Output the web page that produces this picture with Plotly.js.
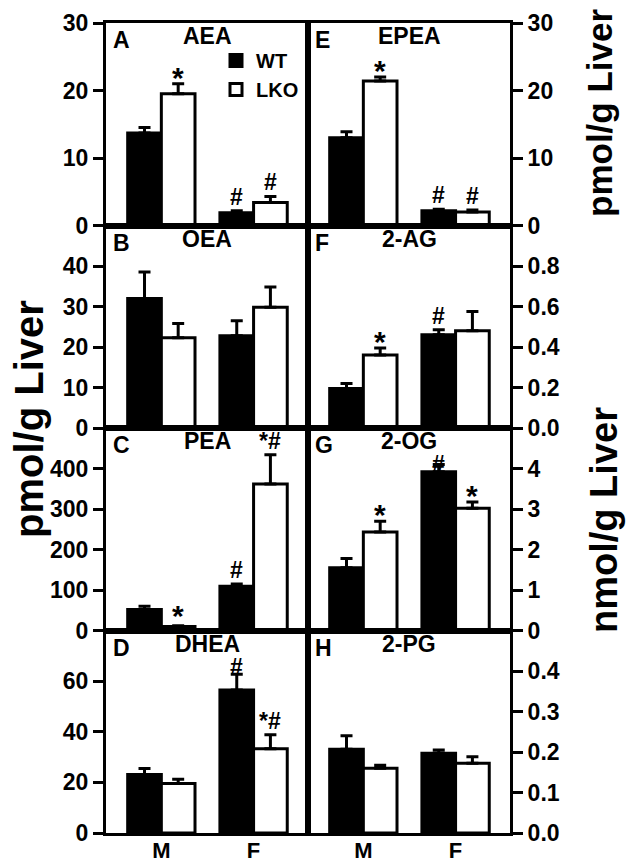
<!DOCTYPE html>
<html><head><meta charset="utf-8">
<script src="https://cdn.plot.ly/plotly-3.0.1.min.js"></script>
<style>html,body{margin:0;padding:0;background:#fff}</style>
</head><body><div id="chart" style="width:629px;height:867px"></div>
<script>
const groups = ['M', 'F'];
const groupX = [0, 1];
const seriesNames = ['WT', 'LKO'];
const panelLetters = ['A', 'B', 'C', 'D', 'E', 'F', 'G', 'H'];
const panelNames = ['AEA', 'OEA', 'PEA', 'DHEA', 'EPEA', '2-AG', '2-OG', '2-PG'];

// means [M, F] and SEM (upper) per panel
const aeaWT = [13.7, 1.9],   aeaWTerr = [0.8, 0.3],   aeaLKO = [19.5, 3.4],   aeaLKOerr = [1.5, 0.9];
const oeaWT = [32.0, 22.8],  oeaWTerr = [6.5, 3.7],   oeaLKO = [22.3, 29.8],  oeaLKOerr = [3.5, 5.0];
const peaWT = [52, 109],     peaWTerr = [8, 6],       peaLKO = [10, 362],     peaLKOerr = [2, 72];
const dheaWT = [23.1, 56.5], dheaWTerr = [2.4, 6.2],  dheaLKO = [19.6, 33.3], dheaLKOerr = [1.6, 5.5];
const epeaWT = [13.0, 2.2],  epeaWTerr = [0.9, 0.2],  epeaLKO = [21.4, 2.0],  epeaLKOerr = [0.6, 0.3];
const agWT = [0.195, 0.46],  agWTerr = [0.025, 0.025], agLKO = [0.36, 0.48], agLKOerr = [0.035, 0.095];
const ogWT = [1.55, 3.92],   ogWTerr = [0.23, 0.18],  ogLKO = [2.43, 3.02],   ogLKOerr = [0.27, 0.15];
const pgWT = [0.207, 0.197], pgWTerr = [0.033, 0.008], pgLKO = [0.16, 0.172], pgLKOerr = [0.007, 0.016];

// significance marks [M, F]
const aeaSigWT = ['', '#'],  aeaSigLKO = ['*', '#'];
const oeaSigWT = ['', ''],   oeaSigLKO = ['', ''];
const peaSigWT = ['', '#'],  peaSigLKO = ['*', '*#'];
const dheaSigWT = ['', '#'], dheaSigLKO = ['', '*#'];
const epeaSigWT = ['', '#'], epeaSigLKO = ['*', '#'];
const agSigWT = ['', '#'],   agSigLKO = ['*', ''];
const ogSigWT = ['', '#'],   ogSigLKO = ['*', '*'];
const pgSigWT = ['', ''],    pgSigLKO = ['', ''];

// axis ranges and ticks
const yMax = [30, 50, 500, 80, 30, 1.0, 5, 0.5];
const yTicks = [
  [0, 10, 20, 30], [0, 10, 20, 30, 40], [0, 100, 200, 300, 400], [0, 20, 40, 60],
  [0, 10, 20, 30], [0, 0.2, 0.4, 0.6, 0.8], [0, 1, 2, 3, 4], [0, 0.1, 0.2, 0.3, 0.4]
];
const yTickText = [
  ['0', '10', '20', '30'], ['0', '10', '20', '30', '40'], ['0', '100', '200', '300', '400'], ['0', '20', '40', '60'],
  ['0', '10', '20', '30'], ['0.0', '0.2', '0.4', '0.6', '0.8'], ['0', '1', '2', '3', '4'], ['0.0', '0.1', '0.2', '0.3', '0.4']
];

const panels = [
  [aeaWT, aeaWTerr, aeaLKO, aeaLKOerr, aeaSigWT, aeaSigLKO],
  [oeaWT, oeaWTerr, oeaLKO, oeaLKOerr, oeaSigWT, oeaSigLKO],
  [peaWT, peaWTerr, peaLKO, peaLKOerr, peaSigWT, peaSigLKO],
  [dheaWT, dheaWTerr, dheaLKO, dheaLKOerr, dheaSigWT, dheaSigLKO],
  [epeaWT, epeaWTerr, epeaLKO, epeaLKOerr, epeaSigWT, epeaSigLKO],
  [agWT, agWTerr, agLKO, agLKOerr, agSigWT, agSigLKO],
  [ogWT, ogWTerr, ogLKO, ogLKOerr, ogSigWT, ogSigLKO],
  [pgWT, pgWTerr, pgLKO, pgLKOerr, pgSigWT, pgSigLKO]
];

const W = 629, H = 867;
const FONT = 'Liberation Sans, Arial, Helvetica, sans-serif';
const colX = [[106, 308], [308, 510]];
const rowTop = 23, rowH = 202.5;
const barOffset = 0.1825;
// pixel nudges for marks that sit against a panel title (panel-series-group)
const markNudge = {'6-0-1': -14, '3-0-1': -7, '2-1-0': 4};

const data = [];
const layout = {
  width: W, height: H,
  margin: {l: 0, r: 0, t: 0, b: 0},
  paper_bgcolor: '#fff', plot_bgcolor: '#fff',
  barmode: 'group', bargap: 0.27, bargroupgap: 0,
  showlegend: true,
  legend: {
    x: 216 / W, y: 1 - 41 / H, xanchor: 'left', yanchor: 'top',
    bgcolor: 'rgba(0,0,0,0)', tracegroupgap: 0,
    font: {family: FONT, size: 20, weight: 'bold', color: '#000'},
    itemwidth: 30
  },
  annotations: [], font: {family: FONT, color: '#000'}
};

panels.forEach((p, i) => {
  const col = i < 4 ? 0 : 1;
  const row = i % 4;
  const n = i + 1;
  const xa = 'x' + n, ya = 'y' + n;
  const zeros = [0, 0];
  data.push({
    type: 'bar', name: seriesNames[0], x: groupX, y: p[0], xaxis: xa, yaxis: ya,
    marker: {color: '#000', line: {color: '#000', width: 3}},
    error_y: {type: 'data', symmetric: false, array: p[1], arrayminus: zeros, color: '#000', thickness: 3, width: 6},
    showlegend: i === 0, legendgroup: 'wt', hoverinfo: 'y'
  });
  data.push({
    type: 'bar', name: seriesNames[1], x: groupX, y: p[2], xaxis: xa, yaxis: ya,
    marker: {color: '#fff', line: {color: '#000', width: 3}},
    error_y: {type: 'data', symmetric: false, array: p[3], arrayminus: zeros, color: '#000', thickness: 3, width: 6},
    showlegend: i === 0, legendgroup: 'lko', hoverinfo: 'y'
  });
  const top = rowTop + row * rowH, bot = top + rowH;
  const key = n === 1 ? '' : n;
  layout['xaxis' + key] = {
    domain: [colX[col][0] / W, colX[col][1] / W], anchor: ya,
    range: [-0.6, 1.59], showgrid: false, zeroline: false,
    showline: true, linewidth: 3, linecolor: '#000', mirror: true,
    tickvals: groupX, ticktext: groups, ticks: '',
    showticklabels: row === 3, ticklabelstandoff: -4,
    tickfont: {family: FONT, size: 22, weight: 'bold', color: '#000'},
    fixedrange: true
  };
  layout['yaxis' + key] = {
    domain: [1 - bot / H, 1 - top / H], anchor: xa,
    range: [0, yMax[i]], side: col === 0 ? 'left' : 'right',
    showgrid: false, zeroline: false,
    showline: true, linewidth: 3, linecolor: '#000', mirror: true,
    ticks: 'outside', ticklen: 10, tickwidth: 3, tickcolor: '#000',
    tickvals: yTicks[i], ticktext: yTickText[i],
    tickfont: {family: FONT, size: 23, weight: 'bold', color: '#000'},
    fixedrange: true
  };
  // panel letter & title
  layout.annotations.push({
    xref: xa + ' domain', yref: ya + ' domain', x: 0.025, y: 0.915,
    xanchor: 'left', yanchor: 'middle', showarrow: false, text: panelLetters[i],
    font: {family: FONT, size: 23, weight: 'bold', color: '#000'}
  });
  layout.annotations.push({
    xref: xa + ' domain', yref: ya + ' domain', x: 0.5, y: 0.935,
    xanchor: 'center', yanchor: 'middle', showarrow: false, text: panelNames[i],
    font: {family: FONT, size: 23, weight: 'bold', color: '#000'}
  });
  // significance marks
  [[p[0], p[1], p[4], -barOffset], [p[2], p[3], p[5], barOffset]].forEach((s, si) => {
    s[2].forEach((mark, g) => {
      if (!mark) return;
      const lone = mark === '*';
      const nudge = markNudge[i + '-' + si + '-' + g] || 0;
      layout.annotations.push({
        xref: xa, yref: ya, x: groupX[g] + s[3], y: s[0][g] + s[1][g],
        xanchor: 'center', yanchor: 'bottom', yshift: (lone ? -12 : -1) + nudge,
        showarrow: false, text: mark,
        font: {family: FONT, size: lone ? 30 : 23, weight: 'bold', color: '#000'}
      });
    });
  });
});

// unit titles
layout.annotations.push({
  xref: 'paper', yref: 'paper', x: 29 / W, y: 1 - 419 / H, textangle: -90,
  xanchor: 'center', yanchor: 'middle', showarrow: false, text: 'pmol/g Liver',
  font: {family: FONT, size: 40, weight: 'bold', color: '#000'}
});
layout.annotations.push({
  xref: 'paper', yref: 'paper', x: 600 / W, y: 1 - 113 / H, textangle: -90,
  xanchor: 'center', yanchor: 'middle', showarrow: false, text: 'pmol/g Liver',
  font: {family: FONT, size: 35, weight: 'bold', color: '#000'}
});
layout.annotations.push({
  xref: 'paper', yref: 'paper', x: 604 / W, y: 1 - 520 / H, textangle: -90,
  xanchor: 'center', yanchor: 'middle', showarrow: false, text: 'nmol/g Liver',
  font: {family: FONT, size: 38, weight: 'bold', color: '#000'}
});

Plotly.newPlot('chart', data, layout, {displayModeBar: false, staticPlot: true});
</script></body></html>
